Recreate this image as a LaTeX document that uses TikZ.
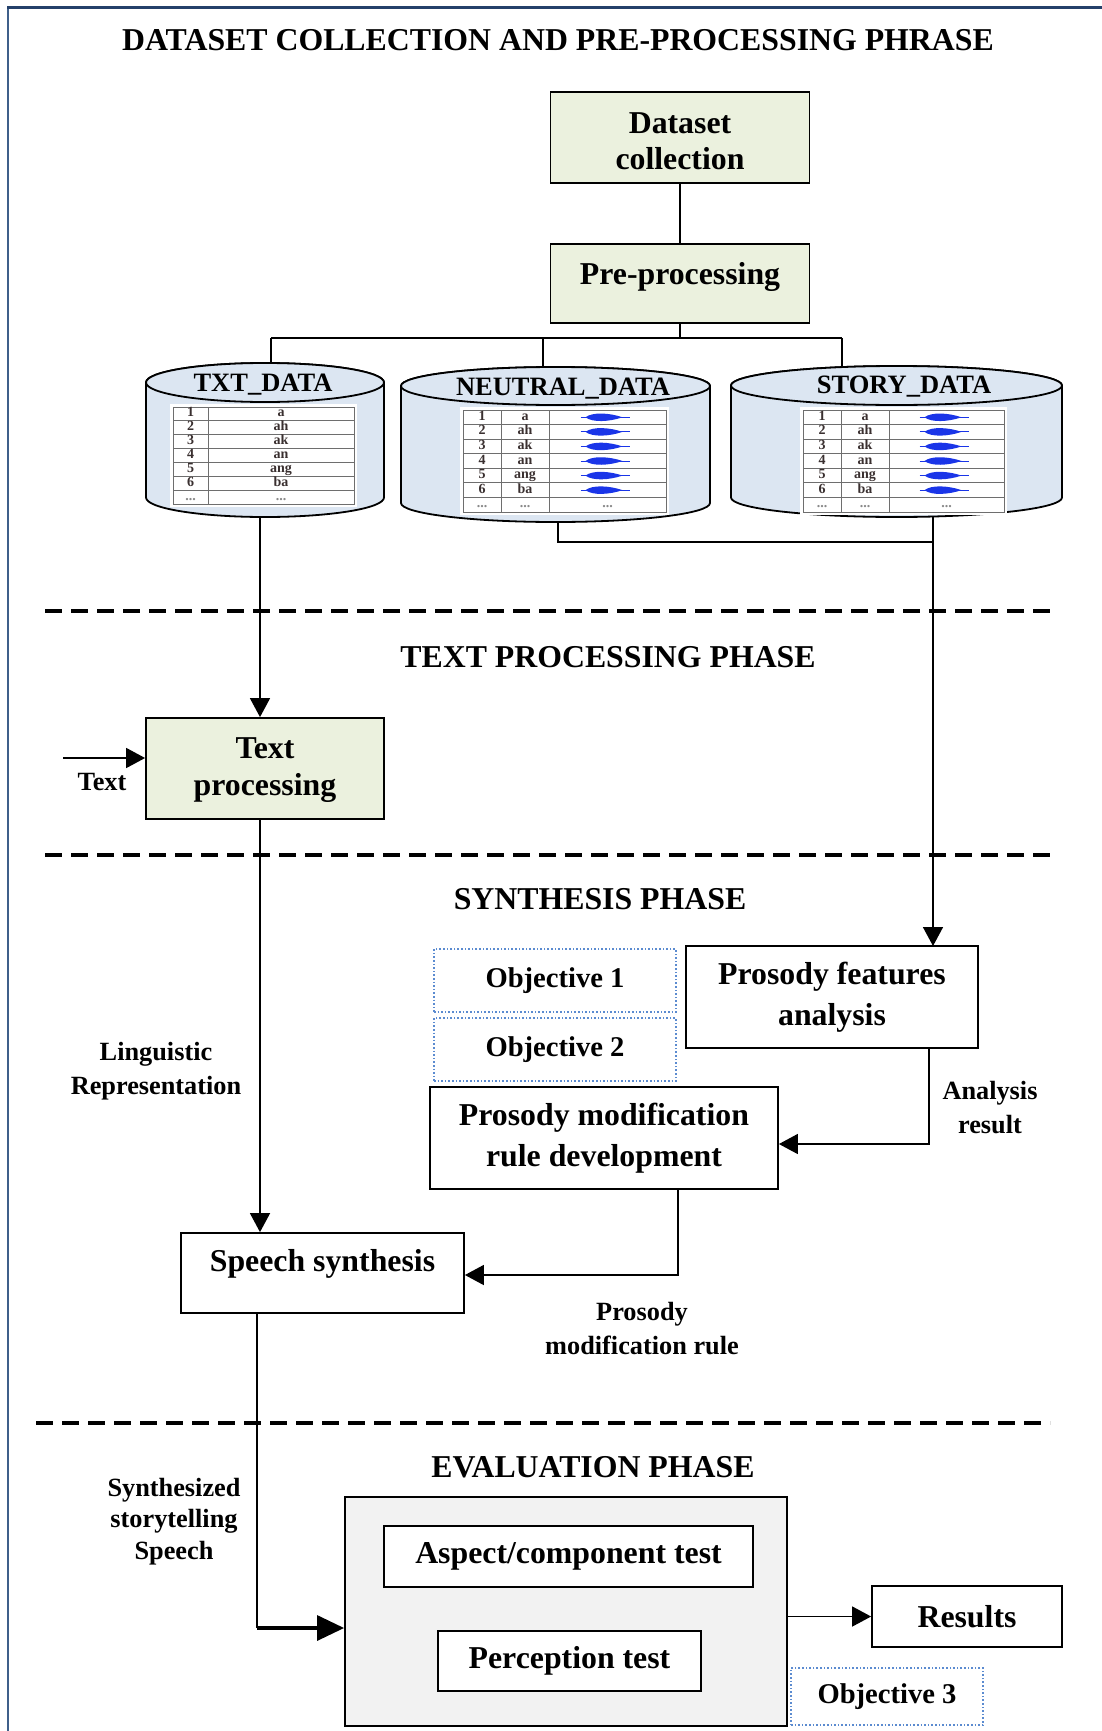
\documentclass[tikz,border=0pt]{standalone}
\usepackage{fontspec}
\setmainfont{Liberation Serif}
\usetikzlibrary{arrows.meta}

\definecolor{frametop}{HTML}{24406A}
\definecolor{frameside}{HTML}{3F5F8A}
\definecolor{boxgreen}{HTML}{EBF1DE}
\definecolor{cylblue}{HTML}{DCE6F2}
\definecolor{evalgray}{HTML}{F2F2F2}
\definecolor{objblue}{HTML}{5B8BD0}
\definecolor{wavecol}{HTML}{1A35E8}
\definecolor{cellink}{HTML}{3A3030}
\definecolor{rulegray}{HTML}{6E6E6E}
\definecolor{dotgray}{HTML}{8A8A8A}

\newcommand\fBig{\fontsize{31.8}{40.5}\selectfont\bfseries}
\newcommand\fSmall{\fontsize{26.3}{34}\selectfont\bfseries}
\newcommand\fObj{\fontsize{28.6}{34}\selectfont\bfseries}
\newcommand\fCyl{\fontsize{26.5}{30}\selectfont\bfseries}
\newcommand\fCell{\fontsize{14}{15}\selectfont\bfseries}

\tikzset{
  conn/.style={draw=black, line width=1.6pt},
  arrowline/.style={conn, -{Triangle[length=19pt,width=20pt]}},
  stage/.style={draw=black, line width=1.8pt, inner sep=0pt, align=center, font=\fBig},
  greenbox/.style={stage, fill=boxgreen},
  objbox/.style={draw=objblue, line width=1.6pt, dotted, inner sep=0pt, font=\fObj},
  phase/.style={font=\fBig, anchor=base, inner sep=0pt},
  note/.style={font=\fSmall, align=center, inner sep=0pt},
  divider/.style={line width=4pt, dash pattern=on 17pt off 9pt},
  cylside/.style={draw=black, line width=1.8pt, fill=cylblue},
  cylbox/.style={inner sep=0pt, draw=none},
  cylname/.style={font=\fCyl, anchor=base, inner sep=0pt},
  cell/.style={font=\fCell, inner sep=0pt, text=cellink, text height=9pt, text depth=3pt},
  tablerule/.style={draw=rulegray, line width=0.8pt},
}

% database cylinder: left, right, top, bottom, radius of the end ellipses
\newcommand\drawcyl[5]{%
  \filldraw[cylside] (#1,{-(#3+#5)}) -- (#1,{-(#4-#5)})
    arc[start angle=180,end angle=360,x radius={(#2-#1)/2},y radius=#5]
    -- (#2,{-(#3+#5)})
    arc[start angle=0,end angle=180,x radius={(#2-#1)/2},y radius=#5] -- cycle;
  \draw[cylside] ({(#1+#2)/2},{-(#3+#5)}) ellipse[x radius={(#2-#1)/2},y radius=#5];
}

% small sound wave glyph centred at (#1,-#2)
\newcommand\wave[2]{%
  \draw[wavecol, line width=1pt] ({#1-27},-#2) -- ({#1+22},-#2);
  \fill[wavecol] ({#1-22},-#2) .. controls ({#1-15},{-#2+5.5}) and ({#1+2},{-#2+4.5}) .. ({#1+15},-#2)
    .. controls ({#1+2},{-#2-4.5}) and ({#1-15},{-#2-5.5}) .. ({#1-22},-#2) -- cycle;
}

% data table: left, first split, second split, right, top, bottom, name prefix
\newcommand\datatable[7]{%
  \pgfmathsetmacro\rowh{(#6-#5)/7}
  \fill[white] ({#1-3},{-#5+3}) rectangle ({#4+3},{-#6-3});
  \draw[tablerule] (#1,-#5) rectangle (#4,-#6);
  \foreach \k in {1,...,6}{\draw[tablerule] (#1,{-#5-\k*\rowh}) -- (#4,{-#5-\k*\rowh});}
  \draw[tablerule] (#2,-#5) -- (#2,-#6);
  \draw[tablerule] (#3,-#5) -- (#3,-#6);
  \foreach \n/\w [count=\i from 0] in {1/a,2/ah,3/ak,4/an,5/ang,6/ba}{%
    \pgfmathsetmacro\yy{#5+(\i+0.5)*\rowh}
    \node[cell] (#7-n\i) at ({(#1+#2)/2},-\yy) {\n};
    \node[cell] (#7-w\i) at ({(#2+#3)/2},-\yy) {\w};
  }
  \pgfmathsetmacro\yy{#5+6.5*\rowh}
  \node[cell, text=dotgray] (#7-n6) at ({(#1+#2)/2},-\yy) {...};
  \node[cell, text=dotgray] (#7-w6) at ({(#2+#3)/2},-\yy) {...};
}

% audio column: split, right, top, bottom, name prefix
\newcommand\wavecolumn[5]{%
  \pgfmathsetmacro\rowh{(#4-#3)/7}
  \pgfmathsetmacro\cx{(#1+#2)/2}
  \foreach \i in {0,...,5}{%
    \pgfmathsetmacro\yy{#3+(\i+0.5)*\rowh}
    \wave{\cx}{\yy}
  }
  \pgfmathsetmacro\yy{#3+6.5*\rowh}
  \node[cell, text=dotgray] (#5-a6) at (\cx,-\yy) {...};
}

\begin{document}
\begin{tikzpicture}[x=1pt,y=1pt]
\useasboundingbox (0,0) rectangle (1101,-1731);

% page frame
\draw[line width=2pt, draw=frameside] (8,-1745) -- (8,-8);
\draw[line width=3pt, draw=frametop] (7,-8) -- (1115,-8);

% phase headings
\node[phase] (h1) at (558,-50.5) {DATASET COLLECTION AND PRE-PROCESSING PHRASE};
\node[phase] (h2) at (608,-667) {TEXT PROCESSING PHASE};
\node[phase] (h3) at (600,-909) {SYNTHESIS PHASE};
\node[phase] (h4) at (593,-1477) {EVALUATION PHASE};

% phase dividers
\draw[divider] (45,-611) -- (1055,-611);
\draw[divider] (45,-855) -- (1055,-855);
\draw[divider] (36,-1423) -- (1050,-1423);

% collection and pre-processing
\node[greenbox, minimum width=259pt, minimum height=91pt] (collect) at (680,-137.5) {};
\node[font=\fBig, align=center, inner sep=0pt] (collecttext) at (680,-141) {Dataset\\[-4pt]collection};
\node[greenbox, minimum width=259pt, minimum height=79pt] (prep) at (680,-283.5) {};
\node[font=\fBig, anchor=base, inner sep=0pt] (preptext) at (680,-284) {Pre-processing};
\draw[conn] (collect.south) -- (prep.north);

% databases
\node[cylbox, minimum width=238pt, minimum height=154pt] (txtdb) at (265,-440) {};
\drawcyl{146}{384}{363}{517}{19.5}
\node[cylname] (txtname) at (263,-391) {TXT\_DATA};
\datatable{173}{208}{354}{354}{407}{504}{tt}

\node[cylbox, minimum width=309pt, minimum height=155pt] (neudb) at (555.5,-444.5) {};
\drawcyl{401}{710}{367}{522}{19}
\node[cylname] (neuname) at (563,-395) {NEUTRAL\_DATA};
\datatable{463}{501}{549}{666}{410}{512}{nt}
\wavecolumn{549}{666}{410}{512}{nt}

\node[cylbox, minimum width=331pt, minimum height=151pt] (stdb) at (896.5,-441.5) {};
\drawcyl{731}{1062}{366}{517}{19.5}
\node[cylname] (stname) at (904,-393) {STORY\_DATA};
\datatable{803}{841}{889}{1004}{410}{512}{st}
\wavecolumn{889}{1004}{410}{512}{st}

% distribution bus
\coordinate (busL) at (271,-338);
\coordinate (busM) at (543,-338);
\coordinate (busR) at (842,-338);
\draw[conn] (prep.south) -- (prep.south |- busL);
\draw[conn] (busL) -- (busR);
\draw[conn] (busL) -- (busL |- txtdb.north);
\draw[conn] (busM) -- ([yshift=-0.5pt]busM |- neudb.north);
\draw[conn] (busR) -- ([yshift=-1pt]busR |- stdb.north);

% text processing
\node[greenbox, minimum width=238pt, minimum height=101pt] (tproc) at (265,-768.5) {};
\node[font=\fBig, align=center, inner sep=0pt] (tproctext) at (265,-770) {Text\\[-3pt]processing};
\coordinate (textin) at (63,-758);
\draw[arrowline] (textin) -- (textin -| tproc.west);
\node[note] (textlbl) at (102,-782) {Text};
\draw[arrowline] ([xshift=-5pt]txtdb.south) -- ([xshift=-5pt]tproc.north);

% speech data to prosody analysis
\coordinate (join) at (933,-542);
\draw[conn] ([xshift=2.5pt]neudb.south) |- (join);
\draw[arrowline] ([yshift=0.5pt]stdb.south -| join) -- (join |- 0,-946);

% synthesis phase
\node[stage, minimum width=292pt, minimum height=102pt] (pfa) at (832,-997) {Prosody features\\analysis};
\node[objbox, minimum width=242pt, minimum height=63pt] (obj1) at (555,-980.5) {Objective 1};
\node[objbox, minimum width=242pt, minimum height=63pt] (obj2) at (555,-1049.5) {Objective 2};
\node[stage, minimum width=348pt, minimum height=102pt] (rule) at (604,-1138) {Prosody modification\\rule development};
\node[stage, minimum width=283pt, minimum height=80pt] (synth) at (322.5,-1273) {};
\node[font=\fBig, anchor=base, inner sep=0pt] (synthtext) at (322.5,-1271) {Speech synthesis};

\coordinate (acorner) at (929,-1144);
\draw[arrowline] (pfa.south -| acorner) -- (acorner) -- (acorner -| rule.east);
\node[note] (ares) at (990,-1107.5) {Analysis\\result};

\coordinate (pcorner) at (678,-1275);
\draw[arrowline] (rule.south -| pcorner) -- (pcorner) -- (pcorner -| synth.east);
\node[note] (pmr) at (642,-1328.5) {Prosody\\modification rule};

\draw[arrowline] ([xshift=-5pt]tproc.south) -- ([xshift=-5pt]tproc.south |- synth.north);
\node[note] (ling) at (156,-1071) {Linguistic\\Representation};

% evaluation phase
\node[stage, fill=evalgray, minimum width=442pt, minimum height=229pt] (eval) at (566,-1611.5) {};
\node[stage, fill=white, minimum width=369pt, minimum height=61pt] (aspect) at (568.5,-1556.5) {Aspect/component test};
\node[stage, fill=white, minimum width=263pt, minimum height=60pt] (perc) at (569.5,-1661) {Perception test};
\node[stage, minimum width=190pt, minimum height=61pt] (results) at (967,-1616.5) {Results};
\node[objbox, minimum width=192pt, minimum height=57pt] (obj3) at (887,-1696.5) {Objective 3};

\coordinate (scorner) at (257,-1628);
\draw[conn] (synth.south -| scorner) -- (scorner);
\draw[line width=3.2pt, -{Triangle[length=27pt,width=25pt]}] (scorner) -- (scorner -| eval.west);
\node[note] (ssl) at (174,-1521.5) {Synthesized\\[-2.5pt]storytelling\\[-2.5pt]Speech};

\draw[arrowline] (eval.east |- results.west) -- (results.west);
\end{tikzpicture}
\end{document}
